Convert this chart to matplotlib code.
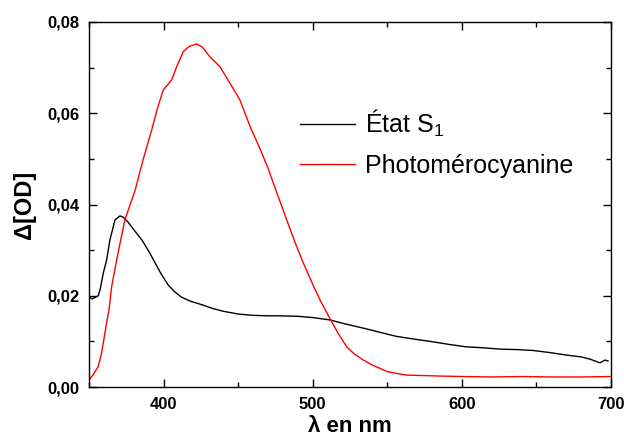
import matplotlib
matplotlib.use("Agg")
import matplotlib.pyplot as plt
from matplotlib.ticker import MultipleLocator, FuncFormatter

plt.rcParams['font.family'] = ['Liberation Sans', 'DejaVu Sans']
plt.rcParams['mathtext.fontset'] = 'custom'
plt.rcParams['mathtext.rm'] = 'Liberation Sans'
plt.rcParams['mathtext.it'] = 'Liberation Sans'

# État S1 (black)
wl_s1 = [350, 352, 354, 356.2, 357.4, 359.6, 361.8, 364, 367.4, 370.8, 373, 376, 380,
         385.5, 390, 394, 398, 403, 407, 412, 418, 426, 433, 440, 450, 460, 470, 478,
         490, 500.4, 511.6, 522, 534, 545, 556, 570, 580.7, 592, 603, 614, 625.6, 637,
         648, 660, 670, 680, 686, 692.6, 696, 698]
od_s1 = [0.0197, 0.0193, 0.0196, 0.0200, 0.0213, 0.0250, 0.0278, 0.0322, 0.0366, 0.0375,
         0.0372, 0.0362, 0.0345, 0.0322, 0.0298, 0.0274, 0.0250, 0.0224, 0.0210, 0.0197,
         0.0188, 0.0180, 0.0172, 0.0166, 0.0160, 0.0157, 0.0156, 0.0156, 0.0155, 0.0152,
         0.0147, 0.0138, 0.0129, 0.0120, 0.0111, 0.0104, 0.0099, 0.0093, 0.0088, 0.0086,
         0.0083, 0.0082, 0.0080, 0.0075, 0.0070, 0.0066, 0.0061, 0.0053, 0.0059, 0.0057]

# Photomérocyanine (red)
wl_pm = [350, 353, 356.2, 358.4, 361.8, 363.4, 365.2, 368.5, 374, 381, 386, 392, 396,
         399.8, 405.4, 408.8, 413.2, 417, 422.2, 426, 431, 437.8, 444.5, 451.2, 458,
         464, 470, 476, 482.6, 488, 493.8, 500, 505, 512.7, 517, 522.8, 528, 534, 540,
         545, 549.6, 556, 563, 575, 585, 600, 620, 640, 660, 680, 700]
od_pm = [0.0015, 0.0028, 0.0045, 0.0074, 0.0140, 0.0169, 0.0220, 0.0278, 0.0366, 0.0432,
         0.0495, 0.0563, 0.0612, 0.0651, 0.0673, 0.0702, 0.0735, 0.0746, 0.0752, 0.0745,
         0.0724, 0.0702, 0.0666, 0.0629, 0.0571, 0.0527, 0.0480, 0.0425, 0.0366, 0.0318,
         0.0271, 0.0225, 0.0190, 0.0143, 0.0118, 0.0088, 0.0072, 0.0059, 0.0048, 0.0041,
         0.0034, 0.0030, 0.0026, 0.0025, 0.0024, 0.0023, 0.0022, 0.0023, 0.0022, 0.0022,
         0.0023]

fig = plt.figure(figsize=(6.24, 4.41), dpi=100)
ax = fig.add_axes([89 / 624, 54 / 441, 522 / 624, 365 / 441])

ax.plot(wl_s1, od_s1, color='black', lw=1.0, label='État S$_1$')
ax.plot(wl_pm, od_pm, color='red', lw=1.0, label='Photomérocyanine')

ax.set_xlim(350, 700)
ax.set_ylim(0, 0.08)
ax.xaxis.set_major_locator(MultipleLocator(100))
ax.xaxis.set_minor_locator(MultipleLocator(50))
ax.yaxis.set_major_locator(MultipleLocator(0.02))
ax.yaxis.set_minor_locator(MultipleLocator(0.01))
ax.yaxis.set_major_formatter(FuncFormatter(lambda v, p: f'{v:.2f}'.replace('.', ',')))
ax.xaxis.set_major_formatter(FuncFormatter(lambda v, p: f'{v:.0f}'))

ax.tick_params(which='both', direction='in', top=True, right=True, width=1.0)
ax.tick_params(which='major', length=6, labelsize=12, pad=7)
ax.tick_params(which='minor', length=3.5)
for lab in ax.get_xticklabels() + ax.get_yticklabels():
    lab.set_fontweight('bold')
for s in ax.spines.values():
    s.set_linewidth(1.0)

ax.set_xlabel('λ en nm', fontsize=16, fontweight='bold', labelpad=3)
ax.set_ylabel('Δ[OD]', fontsize=17, fontweight='bold', labelpad=8)

ax.legend(frameon=False, fontsize=18, loc='upper left', bbox_to_anchor=(0.404, 0.764),
          handlelength=2.2, handletextpad=0.4, labelspacing=0.57, borderpad=0,
          borderaxespad=0)

fig.savefig('out.png', dpi=100)
